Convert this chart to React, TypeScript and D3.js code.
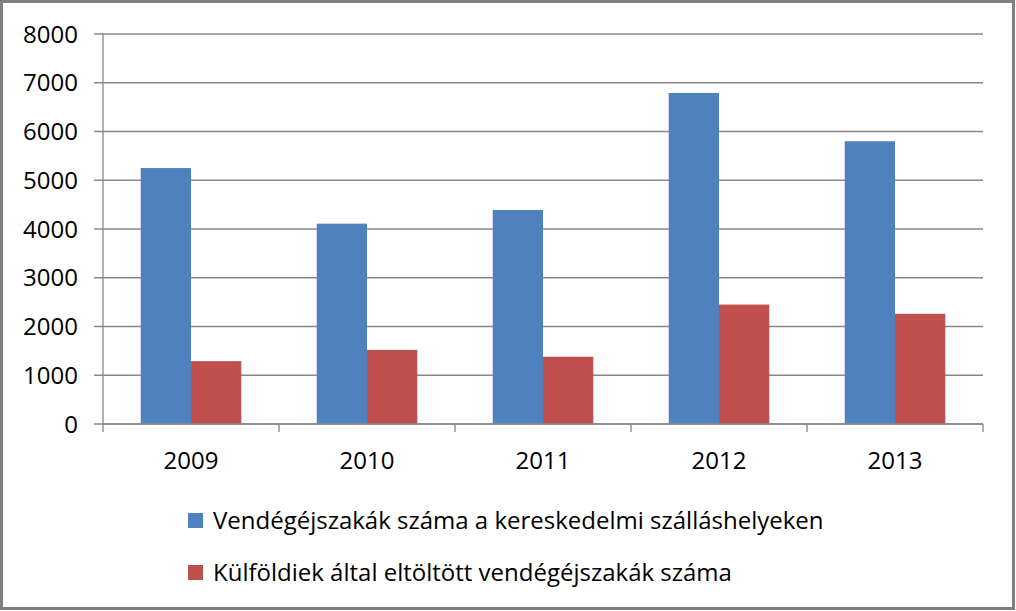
import React from "react";
import * as d3 from "d3";

const years = ["2009", "2010", "2011", "2012", "2013"];
const seriesNames = [
  "Vendégéjszakák száma a kereskedelmi szálláshelyeken",
  "Külföldiek által eltöltött vendégéjszakák száma",
];
const guestNights = [5250, 4110, 4390, 6790, 5800];
const foreignNights = [1290, 1520, 1380, 2450, 2260];
const yTicks = [0, 1000, 2000, 3000, 4000, 5000, 6000, 7000, 8000];
const colors = ["#4F81BD", "#C0504D"];

const W = 1016;
const H = 611;
const FONT = "'Open Sans', 'Liberation Sans', sans-serif";

export default function App() {
  const left = 103;
  const right = 983;
  const top = 34;
  const bottom = 424;

  const x = d3.scaleBand<string>().domain(years).range([left, right]).paddingInner(0).paddingOuter(0);
  const y = d3.scaleLinear().domain([0, 8000]).range([bottom, top]);
  const step = x.bandwidth();
  const barW = step / 3.5;
  const sub = d3
    .scaleBand<number>()
    .domain([0, 1])
    .range([0, barW * 2]);

  const series = [guestNights, foreignNights];
  const gridColor = "#888888";

  return (
    <svg
      width={W}
      height={H}
      style={{ position: "absolute", left: 0, top: 0, background: "#fff" }}
    >
      <rect x={0} y={0} width={W} height={H} fill="#fff" />
      {yTicks.map((t) => (
        <g key={t}>
          <line x1={left - 9} x2={right} y1={y(t)} y2={y(t)} stroke={gridColor} strokeWidth={1.3} />
          <text
            x={78}
            y={y(t)}
            dy="0.36em"
            textAnchor="end"
            fontFamily={FONT}
            fontSize={24}
            fill="#000"
          >
            {t}
          </text>
        </g>
      ))}
      {series.map((vals, si) =>
        years.map((yr, i) => {
          const x0 = (x(yr) as number) + (step - barW * 2) / 2 + (sub(si) as number);
          return (
            <rect
              key={`${si}-${yr}`}
              x={x0}
              y={y(vals[i])}
              width={sub.bandwidth()}
              height={bottom - y(vals[i])}
              fill={colors[si]}
            />
          );
        })
      )}
      <line x1={left} x2={left} y1={top} y2={bottom} stroke={gridColor} strokeWidth={1.3} />
      <line x1={left} x2={right} y1={bottom} y2={bottom} stroke={gridColor} strokeWidth={1.3} />
      {[...years.map((yr) => x(yr) as number), right].map((tx, i) => (
        <line key={i} x1={tx} x2={tx} y1={bottom} y2={bottom + 8} stroke={gridColor} strokeWidth={1.3} />
      ))}
      {years.map((yr) => (
        <text
          key={yr}
          x={(x(yr) as number) + step / 2}
          y={469}
          textAnchor="middle"
          fontFamily={FONT}
          fontSize={24}
          fill="#000"
        >
          {yr}
        </text>
      ))}
      {seriesNames.map((name, i) => (
        <g key={name} transform={`translate(188, ${520 + i * 52})`}>
          <rect x={0} y={-7} width={15} height={15} fill={colors[i]} />
          <text x={25} y={0} dy="0.36em" fontFamily={FONT} fontSize={24} fill="#000">
            {name}
          </text>
        </g>
      ))}
      <rect x={1.5} y={1.5} width={W - 4} height={H - 4} fill="none" stroke="#7f7f7f" strokeWidth={3} />
    </svg>
  );
}
